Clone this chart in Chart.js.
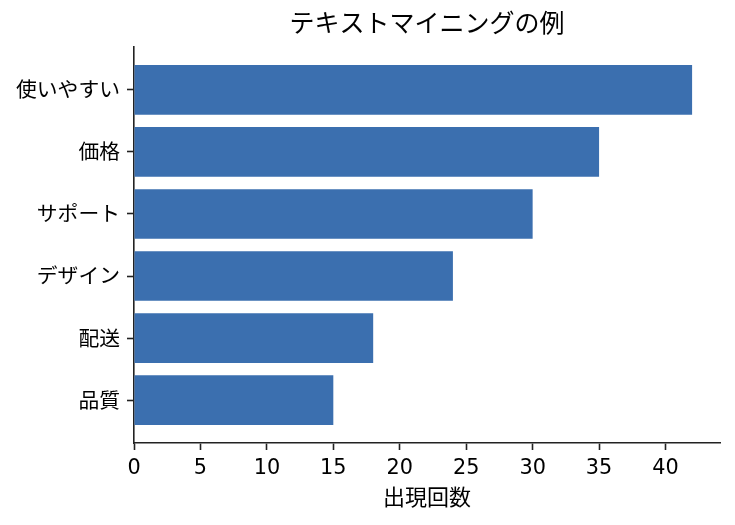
<!DOCTYPE html>
<html>
<head>
<meta charset="utf-8">
<script src="https://cdn.jsdelivr.net/npm/chart.js@4/dist/chart.umd.min.js"></script>
<style>
  html, body { margin: 0; padding: 0; background: #fff; }
  canvas { display: block; }
</style>
</head>
<body>
<canvas id="chart" width="735" height="525"></canvas>
<script>
var categories = ['使いやすい', '価格', 'サポート', 'デザイン', '配送', '品質'];
var counts = [42, 35, 30, 24, 18, 15];
var xTicks = [0, 5, 10, 15, 20, 25, 30, 35, 40];

var FONT = '"DejaVu Sans", "Noto Sans CJK JP", sans-serif';
var INK = '#222222';

document.addEventListener('DOMContentLoaded', function () {
    initBarChart();
});

function initBarChart() {
    var canvasEl = document.getElementById('chart');

    new Chart(canvasEl, {
        type: 'bar',
        data: {
            datasets: [{
                data: counts.map(function (v, i) { return { x: v, y: i }; }),
                backgroundColor: '#3B6FAF',
                borderWidth: 0,
                categoryPercentage: 1,
                barPercentage: 0.8,
                xAxisID: 'x',
                yAxisID: 'y'
            }]
        },
        options: {
            indexAxis: 'y',
            responsive: false,
            animation: false,
            devicePixelRatio: 1,
            layout: { padding: { left: 0, right: 15, top: 0, bottom: 0 } },
            plugins: {
                legend: { display: false },
                tooltip: { enabled: false },
                title: { display: false }
            },
            scales: {
                // top axis only carries the title so it centres over the plot area
                top: {
                    type: 'linear',
                    position: 'top',
                    min: 0,
                    max: 44.1,
                    afterFit: function (scale) { scale.height = 47; },
                    ticks: { display: false },
                    grid: { display: false },
                    border: { display: false },
                    title: {
                        display: true,
                        text: 'テキストマイニングの例',
                        color: '#000',
                        font: { family: FONT, size: 25, lineHeight: 1.2 },
                        padding: { top: 10, bottom: 0 }
                    }
                },
                x: {
                    type: 'linear',
                    position: 'bottom',
                    min: 0,
                    max: 44.1,
                    afterBuildTicks: function (scale) {
                        scale.ticks = xTicks.map(function (v) { return { value: v }; });
                    },
                    afterFit: function (scale) { scale.height = 82; },
                    ticks: {
                        color: '#000',
                        padding: 6,
                        font: { family: FONT, size: 20.8 }
                    },
                    grid: {
                        drawOnChartArea: false,
                        drawTicks: true,
                        tickLength: 7,
                        tickColor: INK,
                        tickWidth: 1.6
                    },
                    border: { display: true, color: INK, width: 1.6 },
                    title: {
                        display: true,
                        text: '出現回数',
                        color: '#000',
                        font: { family: FONT, size: 22, lineHeight: 1.2 },
                        padding: { top: 0, bottom: 13 }
                    }
                },
                y: {
                    type: 'linear',
                    min: -0.69,
                    max: 5.69,
                    reverse: true,
                    offset: false,
                    afterBuildTicks: function (scale) {
                        scale.ticks = categories.map(function (c, i) { return { value: i }; });
                    },
                    afterFit: function (scale) { scale.width = 134; },
                    ticks: {
                        color: '#000',
                        padding: 7,
                        labelOffset: 2,
                        font: { family: FONT, size: 20.8 },
                        callback: function (value) { return categories[value]; }
                    },
                    grid: {
                        offset: false,
                        drawOnChartArea: false,
                        drawTicks: true,
                        tickLength: 7,
                        tickColor: INK,
                        tickWidth: 1.6
                    },
                    border: { display: true, color: INK, width: 1.6 }
                }
            }
        }
    });
}
</script>
</body>
</html>
